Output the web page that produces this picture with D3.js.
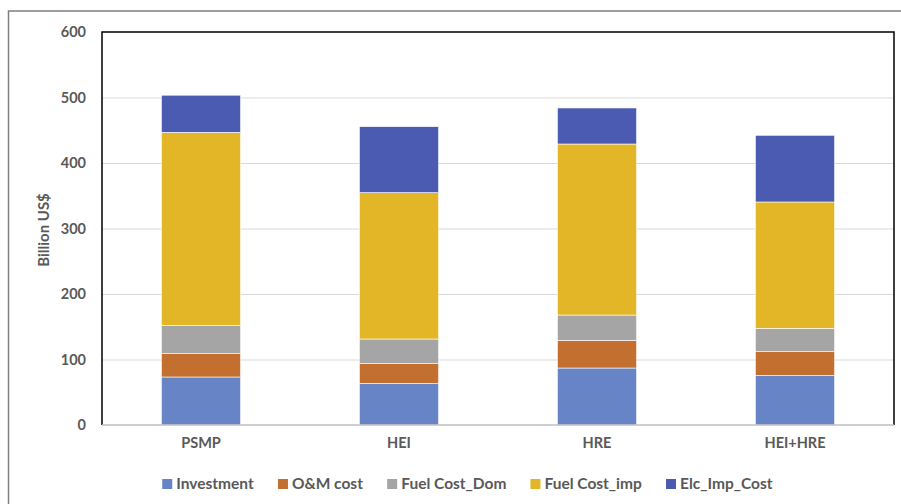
<!DOCTYPE html>
<html>
<head>
<meta charset="utf-8">
<script src="https://cdn.jsdelivr.net/npm/d3@7"></script>
<style>
  html, body { margin: 0; padding: 0; background: #fff; }
  svg { display: block; }
  text { font-family: Lato, "Open Sans", sans-serif; font-weight: bold; fill: #595959; }
</style>
</head>
<body>
<svg id="chart" width="901" height="504"></svg>
<script>
const categories = ["PSMP", "HEI", "HRE", "HEI+HRE"];
const seriesNames = ["Investment", "O&M cost", "Fuel Cost_Dom", "Fuel Cost_imp", "Elc_Imp_Cost"];
const investment  = [73.3, 63.6, 87.0, 75.8];
const omCost      = [35.6, 30.0, 42.3, 36.1];
const fuelDom     = [43.3, 37.7, 38.6, 35.7];
const fuelImp     = [294.6, 223.4, 261.1, 192.9];
const elcImp      = [56.7, 100.8, 55.0, 101.8];
const yTicks      = [0, 100, 200, 300, 400, 500, 600];
const colors      = ["#6784C7", "#C36F30", "#A5A5A5", "#E2B627", "#4A5BB1"];

const seriesValues = [investment, omCost, fuelDom, fuelImp, elcImp];
const rows = categories.map((c, i) => {
  const r = { cat: c };
  seriesNames.forEach((s, j) => r[s] = seriesValues[j][i]);
  return r;
});
const stacked = d3.stack().keys(seriesNames)(rows);

const svg = d3.select("#chart");
// outer frame
svg.append("rect").attr("x", 8.5).attr("y", 11).attr("width", 900).attr("height", 500)
  .attr("fill", "none").attr("stroke", "#7f7f7f").attr("stroke-width", 1.5);

const plot = { left: 102, top: 32, right: 894, bottom: 425 };
const x = d3.scaleBand().domain(categories).range([plot.left, plot.right]).paddingInner(0.6).paddingOuter(0.3);
const y = d3.scaleLinear().domain([0, 600]).range([plot.bottom, plot.top]);

// gridlines
svg.append("g").selectAll("line").data(yTicks.filter(t => t > 0 && t < 600)).join("line")
  .attr("x1", plot.left).attr("x2", plot.right)
  .attr("y1", d => y(d) + 0.5).attr("y2", d => y(d) + 0.5)
  .attr("stroke", "#D9D9D9").attr("stroke-width", 1.2);

// bars
svg.append("g").selectAll("g").data(stacked).join("g")
  .attr("fill", (d, i) => colors[i])
  .selectAll("rect").data(d => d).join("rect")
  .attr("x", d => x(d.data.cat))
  .attr("width", x.bandwidth())
  .attr("y", d => y(d[1]))
  .attr("height", d => y(d[0]) - y(d[1]))
  .attr("stroke", "#ffffff").attr("stroke-width", 0.6);

// plot border: black left, top, right; gray bottom axis
svg.append("path")
  .attr("d", `M${plot.left},${plot.bottom}V${plot.top}H${plot.right}V${plot.bottom}`)
  .attr("fill", "none").attr("stroke", "#000").attr("stroke-width", 1.5);
svg.append("line").attr("x1", plot.left).attr("x2", plot.right)
  .attr("y1", plot.bottom).attr("y2", plot.bottom)
  .attr("stroke", "#BFBFBF").attr("stroke-width", 1.5);

// y axis
const yAxis = d3.axisLeft(y).tickValues(yTicks).tickSize(0).tickPadding(16);
const yg = svg.append("g").attr("transform", `translate(${plot.left},0)`).call(yAxis);
yg.select(".domain").remove();
yg.selectAll("text").style("font-size", "14.5px").attr("fill", "#595959")
  .style("font-family", "Lato, sans-serif").style("font-weight", "bold");

// x axis
const xAxis = d3.axisBottom(x).tickSize(0).tickPadding(13);
const xg = svg.append("g").attr("transform", `translate(0,${plot.bottom})`).call(xAxis);
xg.select(".domain").remove();
xg.selectAll("text").style("font-size", "14.5px").attr("fill", "#595959")
  .style("font-family", "Lato, sans-serif").style("font-weight", "bold");

// y title
svg.append("text").attr("transform", "translate(49,230) rotate(-90)")
  .attr("text-anchor", "middle").style("font-size", "15px").text("Billion US$");

// legend
const lg = svg.append("g");
const items = lg.selectAll("g").data(seriesNames).join("g");
items.append("rect").attr("width", 10).attr("height", 10).attr("y", -5)
  .attr("fill", (d, i) => colors[i]);
items.append("text").attr("x", 14).attr("dy", "0.35em").style("font-size", "15.5px").text(d => d);
const widths = [];
items.each(function () { widths.push(this.getBBox().width); });
const gap = 24;
const total = d3.sum(widths) + gap * (widths.length - 1);
let start = 467.5 - total / 2;
items.attr("transform", (d, i) => {
  const t = `translate(${start},484)`;
  start += widths[i] + gap;
  return t;
});
</script>
</body>
</html>
